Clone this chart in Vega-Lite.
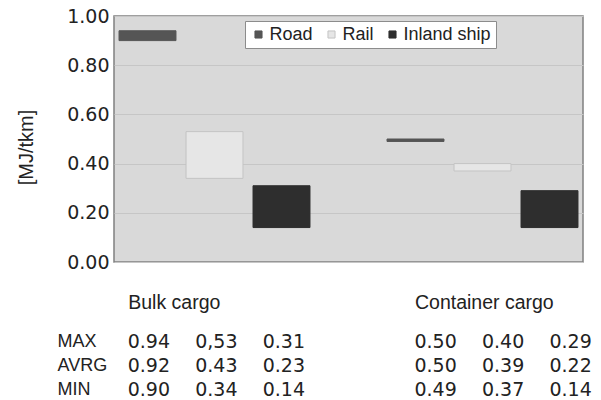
{
  "$schema": "https://vega.github.io/schema/vega-lite/v6.json",
  "padding": {"left": 15, "top": 6, "right": 0, "bottom": 0},
  "background": "white",
  "spacing": 19,
  "datasets": {
    "bars": [
      {"cargo": "Bulk cargo", "mode": "Road", "max": 0.94, "avrg": 0.92, "min": 0.90},
      {"cargo": "Bulk cargo", "mode": "Rail", "max": 0.53, "avrg": 0.43, "min": 0.34},
      {"cargo": "Bulk cargo", "mode": "Inland ship", "max": 0.31, "avrg": 0.23, "min": 0.14},
      {"cargo": "Container cargo", "mode": "Road", "max": 0.50, "avrg": 0.50, "min": 0.49},
      {"cargo": "Container cargo", "mode": "Rail", "max": 0.40, "avrg": 0.39, "min": 0.37},
      {"cargo": "Container cargo", "mode": "Inland ship", "max": 0.29, "avrg": 0.22, "min": 0.14}
    ],
    "table": [
      {"cargo": "Bulk cargo", "mode": "Road", "stat": "MAX", "value": "0.94"},
      {"cargo": "Bulk cargo", "mode": "Road", "stat": "AVRG", "value": "0.92"},
      {"cargo": "Bulk cargo", "mode": "Road", "stat": "MIN", "value": "0.90"},
      {"cargo": "Bulk cargo", "mode": "Rail", "stat": "MAX", "value": "0,53"},
      {"cargo": "Bulk cargo", "mode": "Rail", "stat": "AVRG", "value": "0.43"},
      {"cargo": "Bulk cargo", "mode": "Rail", "stat": "MIN", "value": "0.34"},
      {"cargo": "Bulk cargo", "mode": "Inland ship", "stat": "MAX", "value": "0.31"},
      {"cargo": "Bulk cargo", "mode": "Inland ship", "stat": "AVRG", "value": "0.23"},
      {"cargo": "Bulk cargo", "mode": "Inland ship", "stat": "MIN", "value": "0.14"},
      {"cargo": "Container cargo", "mode": "Road", "stat": "MAX", "value": "0.50"},
      {"cargo": "Container cargo", "mode": "Road", "stat": "AVRG", "value": "0.50"},
      {"cargo": "Container cargo", "mode": "Road", "stat": "MIN", "value": "0.49"},
      {"cargo": "Container cargo", "mode": "Rail", "stat": "MAX", "value": "0.40"},
      {"cargo": "Container cargo", "mode": "Rail", "stat": "AVRG", "value": "0.39"},
      {"cargo": "Container cargo", "mode": "Rail", "stat": "MIN", "value": "0.37"},
      {"cargo": "Container cargo", "mode": "Inland ship", "stat": "MAX", "value": "0.29"},
      {"cargo": "Container cargo", "mode": "Inland ship", "stat": "AVRG", "value": "0.22"},
      {"cargo": "Container cargo", "mode": "Inland ship", "stat": "MIN", "value": "0.14"}
    ]
  },
  "vconcat": [
    {
      "width": 469,
      "height": 246,
      "data": {"name": "bars"},
      "view": {"fill": "#d9d9d9", "stroke": "#808080", "strokeWidth": 1.5},
      "mark": {"type": "bar", "strokeWidth": 1},
      "encoding": {
        "x": {"field": "cargo", "type": "nominal", "sort": ["Bulk cargo", "Container cargo"], "scale": {"paddingInner": 0.25, "paddingOuter": 0}, "axis": null},
        "xOffset": {"field": "mode", "type": "nominal", "sort": ["Road", "Rail", "Inland ship"], "scale": {"paddingInner": 0.15, "paddingOuter": 0.075}},
        "y": {
          "field": "min", "type": "quantitative",
          "scale": {"domain": [0, 1], "nice": false},
          "axis": {
            "values": [0, 0.2, 0.4, 0.6, 0.8, 1], "format": ".2f", "title": "[MJ/tkm]",
            "grid": true, "gridColor": "#c6c6c6", "gridWidth": 1,
            "ticks": false, "domain": false,
            "labelFont": "DejaVu Sans", "labelFontSize": 19, "labelColor": "#222222", "labelPadding": 5,
            "titleFont": "Liberation Sans", "titleFontSize": 20, "titleFontWeight": "normal", "titleColor": "#222222", "titlePadding": 30, "titleY": 131
          }
        },
        "y2": {"field": "max"},
        "fill": {
          "field": "mode", "type": "nominal",
          "scale": {"domain": ["Road", "Rail", "Inland ship"], "range": ["#555555", "#e6e6e6", "#2e2e2e"]},
          "legend": {"orient": "none", "legendX": 131, "legendY": 5, "direction": "horizontal", "title": null}
        },
        "stroke": {
          "field": "mode", "type": "nominal",
          "scale": {"domain": ["Road", "Rail", "Inland ship"], "range": ["#555555", "#c4c4c4", "#2e2e2e"]},
          "legend": {"orient": "none", "legendX": 131, "legendY": 5, "direction": "horizontal", "title": null}
        }
      }
    },
    {
      "width": 469,
      "height": 72,
      "data": {"name": "table"},
      "view": {"stroke": null},
      "mark": {"type": "text", "font": "DejaVu Sans", "fontSize": 19, "color": "#222222", "align": "left", "baseline": "alphabetic", "dy": 7},
      "encoding": {
        "x": {
          "field": "cargo", "type": "nominal", "sort": ["Bulk cargo", "Container cargo"],
          "scale": {"paddingInner": 0.529, "paddingOuter": 0.0823, "align": 0.29},
          "axis": {"orient": "top", "title": null, "ticks": false, "domain": false, "labelAlign": "left", "labelOffset": -67, "labelBaseline": "alphabetic", "labelPadding": 21, "labelFont": "Liberation Sans", "labelFontSize": 19.5, "labelColor": "#222222", "labelAngle": 0}
        },
        "xOffset": {"field": "mode", "type": "nominal", "sort": ["Road", "Rail", "Inland ship"], "scale": {"paddingInner": 1, "paddingOuter": 0}},
        "y": {
          "field": "stat", "type": "nominal", "sort": ["MAX", "AVRG", "MIN"],
          "scale": {"paddingInner": 0, "paddingOuter": 0},
          "axis": {"title": null, "ticks": false, "domain": false, "labelAlign": "left", "labelPadding": 57, "labelFont": "Liberation Sans", "labelFontSize": 18, "labelColor": "#222222"}
        },
        "text": {"field": "value"}
      }
    }
  ],
  "resolve": {"scale": {"x": "independent", "xOffset": "independent", "y": "independent"}},
  "config": {
    "legend": {
      "fillColor": "white", "strokeColor": "#8c8c8c", "padding": 4.5,
      "columnPadding": 9, "symbolType": "square", "symbolSize": 50, "symbolStrokeWidth": 1,
      "labelFont": "Liberation Sans", "labelFontSize": 18, "labelColor": "#222222", "labelOffset": 2
    }
  }
}
